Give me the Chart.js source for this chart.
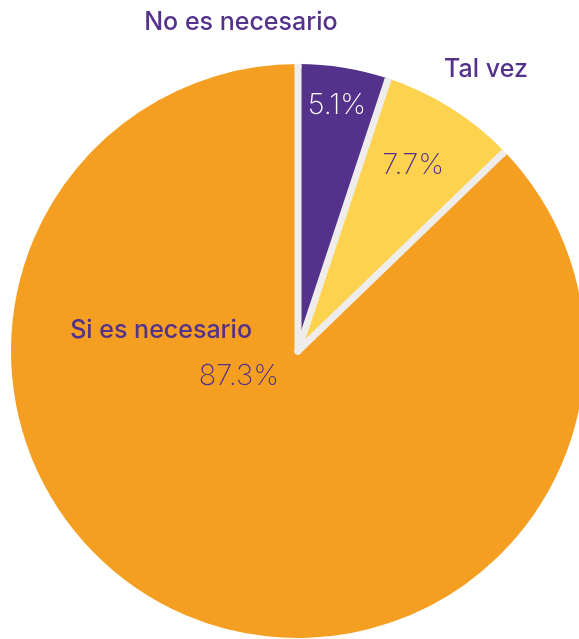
<!DOCTYPE html>
<html>
<head>
<meta charset="utf-8">
<script src="https://cdn.jsdelivr.net/npm/chart.js@4"></script>
<style>
  html, body { margin: 0; padding: 0; background: #fff; overflow: hidden; }
  #wrap { position: absolute; left: 0; top: 0; width: 620px; height: 642px; }
</style>
</head>
<body>
<div id="wrap"><canvas id="myChart" width="620" height="642"></canvas></div>
<script>
const categorias = ["No es necesario", "Tal vez", "Si es necesario"];
const valores = [5.1, 7.7, 87.3];
const colores = ["#54318A", "#FDD24E", "#F59F22"];

// donde va cada texto, en fracciones del radio respecto al centro
const posNombre = [[-0.199, -1.146], [0.655, -0.982], [-0.477, -0.073]];
const posValor = [[0.136, -0.855], [0.401, -0.648], [-0.206, 0.087]];
const colorValor = ["#FFFFFF", "#54318A", "#54318A"];

const chart = document.getElementById("myChart");

// lineas grises entre porciones (sin borde en el contorno exterior)
const separadores = {
  id: "separadores",
  afterDatasetsDraw(c) {
    const ctx = c.ctx;
    const arcos = c.getDatasetMeta(0).data;
    ctx.save();
    ctx.strokeStyle = "#EFEDEB";
    ctx.lineWidth = 7;
    ctx.lineCap = "round";
    arcos.forEach((arco) => {
      const a = arco.startAngle;
      const r = arco.outerRadius - 3;
      ctx.beginPath();
      ctx.moveTo(arco.x, arco.y);
      ctx.lineTo(arco.x + r * Math.cos(a), arco.y + r * Math.sin(a));
      ctx.stroke();
      ctx.lineCap = "butt";
      ctx.beginPath();
      ctx.moveTo(arco.x + (r - 1) * Math.cos(a), arco.y + (r - 1) * Math.sin(a));
      ctx.lineTo(arco.x + (r + 3) * Math.cos(a), arco.y + (r + 3) * Math.sin(a));
      ctx.stroke();
      ctx.lineCap = "round";
    });
    ctx.restore();
  }
};

const etiquetas = {
  id: "etiquetas",
  afterDraw(c) {
    const ctx = c.ctx;
    const arcos = c.getDatasetMeta(0).data;
    const cx = arcos[0].x;
    const cy = arcos[0].y;
    const r = arcos[0].outerRadius;
    ctx.save();
    ctx.textAlign = "center";
    ctx.textBaseline = "middle";
    categorias.forEach((cat, i) => {
      ctx.font = "500 25px Inter, 'Noto Sans', sans-serif";
      ctx.fillStyle = "#54318A";
      ctx.fillText(cat, cx + posNombre[i][0] * r, cy + posNombre[i][1] * r);
      ctx.font = "200 29px Inter, 'Noto Sans', sans-serif";
      ctx.fillStyle = colorValor[i];
      ctx.fillText(valores[i].toFixed(1) + "%", cx + posValor[i][0] * r, cy + posValor[i][1] * r);
    });
    ctx.restore();
  }
};

const config = {
  type: "pie",
  data: {
    labels: categorias,
    datasets: [
      {
        data: valores,
        backgroundColor: colores,
        borderWidth: 0,
        hoverOffset: 0,
      },
    ],
  },
  options: {
    responsive: false,
    animation: false,
    layout: { padding: { left: 11, top: 64, right: 35, bottom: 4 } },
    plugins: {
      legend: { display: false },
      tooltip: { enabled: false },
    },
  },
  plugins: [separadores, etiquetas],
};

new Chart(chart, config);
</script>
</body>
</html>
